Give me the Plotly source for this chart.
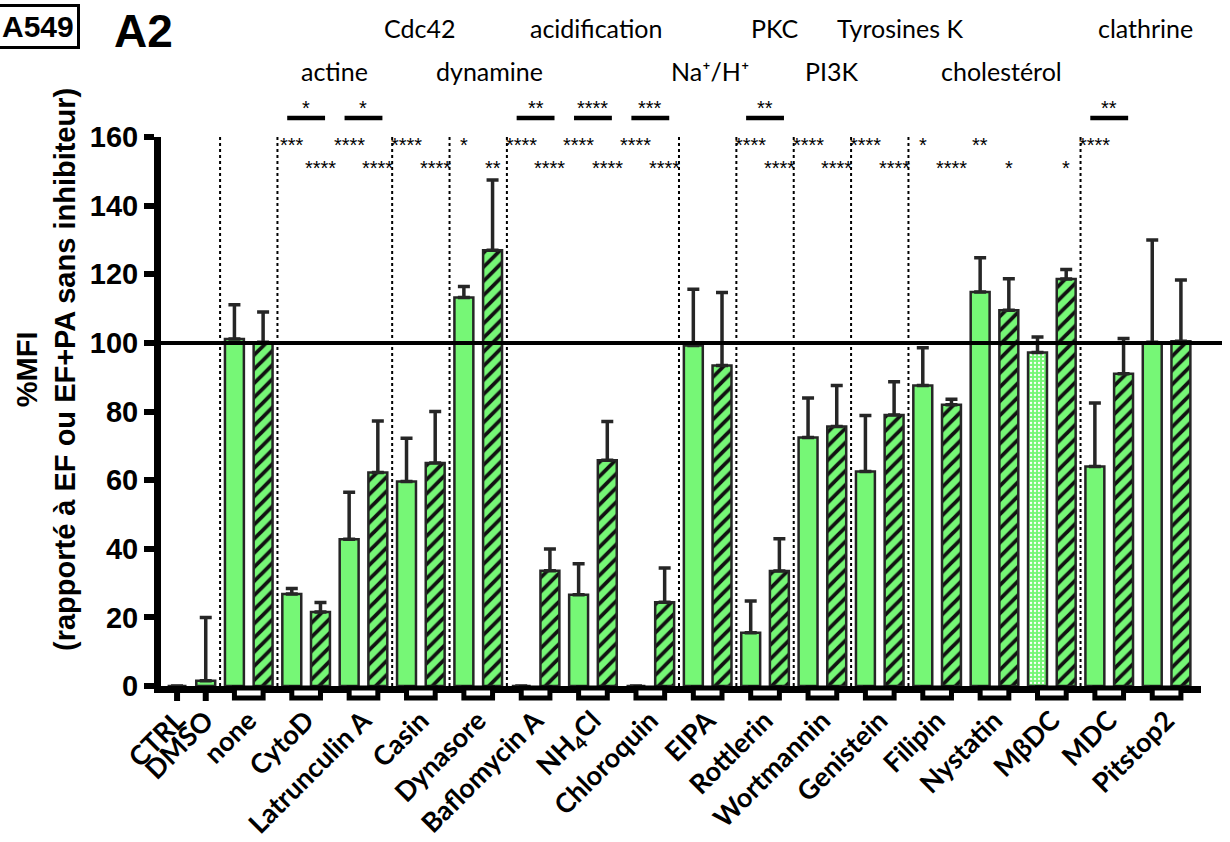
import plotly.graph_objects as go

# ---------------- data ----------------
groups = ["CTRL/DMSO", "none", "CytoD", "Latrunculin A", "Casin", "Dynasore",
          "Baflomycin A", "NH<sub>4</sub>Cl", "Chloroquin", "EIPA", "Rottlerin",
          "Wortmannin", "Genistein", "Filipin", "Nystatin", "MβDC", "MDC", "Pitstop2"]

# solid bars (EF); first slot is CTRL
solid_vals = [0, 101.1, 26.8, 42.8, 59.6, 113.2, 0, 26.6, 0, 99.2, 15.5, 72.4,
              62.5, 87.6, 114.8, 97.2, 64.0, 100.2]
solid_err = [0, 10.0, 1.6, 13.7, 12.6, 3.2, 0, 9.0, 0, 16.4, 9.3, 11.5,
             16.3, 11.0, 10.0, 4.5, 18.5, 29.8]

# hatched bars (EF+PA), from "none" onwards
hatch_vals = [100.2, 21.6, 62.2, 65.0, 127.0, 33.6, 65.8, 24.4, 93.4, 33.5,
              75.6, 79.0, 82.0, 109.5, 118.6, 91.0, 100.5]
hatch_err = [8.8, 2.7, 15.0, 15.0, 20.5, 6.3, 11.3, 10.0, 21.3, 9.4,
             12.0, 9.7, 1.6, 9.2, 2.8, 10.3, 17.8]

dmso_val = [1.5]
dmso_err = [18.5]

tick_labels = ["CTRL", "DMSO"] + groups[1:]

# significance vs control (row 1 = solid bars, row 2 = hatched bars)
stars_row1 = ["", "", "***", "****", "****", "*", "****", "****", "****", "",
              "****", "****", "****", "*", "**", "", "****", ""]
stars_row2 = ["", "", "****", "****", "****", "**", "****", "****", "****", "",
              "****", "****", "****", "****", "*", "*", "", ""]
# solid vs hatched comparisons
pair_stars = {2: "*", 3: "*", 6: "**", 7: "****", 8: "***", 10: "**", 16: "**"}

# target families
families_row1 = [("Cdc42", 3.97), ("acidification", 7.05), ("PKC", 10.17),
                 ("Tyrosines K", 12.35), ("clathrine", 16.64)]
families_row2 = [("actine", 2.5), ("dynamine", 5.2), ("Na⁺/H⁺", 9.04),
                 ("PI3K", 11.17), ("cholestérol", 14.12)]

separators = [0, 1, 3, 4, 5, 8, 9, 10, 11, 12, 15]

# ---------------- figure ----------------
GREEN = "#76F776"
EDGE = "#262626"
idx = list(range(len(groups)))
half = 0.25  # offset of each bar from its group centre

solid_shapes = ["." if g == "MβDC" else "" for g in groups]

fig = go.Figure()
fig.add_trace(go.Bar(
    x=idx, y=solid_vals, offsetgroup="a",
    marker=dict(color=GREEN, line=dict(color=EDGE, width=2.5),
                pattern=dict(shape=solid_shapes, fgcolor="white", bgcolor=GREEN,
                             fillmode="replace", size=4, solidity=0.25)),
    error_y=dict(type="data", array=solid_err, arrayminus=[0] * len(solid_err),
                 symmetric=False, color=EDGE, thickness=3.5, width=6),
    showlegend=False, hoverinfo="skip"))
fig.add_trace(go.Bar(
    x=idx[1:], y=hatch_vals, offsetgroup="b",
    marker=dict(color=GREEN, line=dict(color=EDGE, width=2.5),
                pattern=dict(shape="/", fgcolor="#111111", bgcolor=GREEN,
                             fillmode="replace", size=10, solidity=0.38)),
    error_y=dict(type="data", array=hatch_err, arrayminus=[0] * len(hatch_err),
                 symmetric=False, color=EDGE, thickness=3.5, width=6),
    showlegend=False, hoverinfo="skip"))
fig.add_trace(go.Bar(
    x=[0], y=dmso_val, offsetgroup="b",
    marker=dict(color=GREEN, line=dict(color=EDGE, width=2.5)),
    error_y=dict(type="data", array=dmso_err, arrayminus=[0], symmetric=False,
                 color=EDGE, thickness=3.5, width=6),
    showlegend=False, hoverinfo="skip"))

tickvals = [-half, half] + idx[1:]

PLOT_L, PLOT_R, PLOT_T, PLOT_B = 161, 1201, 137, 686
PH = PLOT_B - PLOT_T
PW = PLOT_R - PLOT_L


def py(px):
    return (PLOT_B - px) / PH


def pxx(px):
    return (px - PLOT_L) / PW


fig.update_layout(
    template="none",
    width=1230, height=842,
    margin=dict(l=PLOT_L, r=1230 - PLOT_R, t=PLOT_T, b=842 - PLOT_B, pad=0),
    paper_bgcolor="white", plot_bgcolor="white",
    barmode="group", bargap=0.0, bargroupgap=0.34,
    xaxis=dict(range=[-0.53, 17.6], tickvals=tickvals, ticktext=tick_labels,
               tickangle=-45, ticks="outside", ticklen=1, tickwidth=1,
               tickcolor="rgba(0,0,0,0)", automargin=False,
               tickfont=dict(family="Lato", size=27, color="black", weight="bold"),
               showline=True, linewidth=7, linecolor="black",
               showgrid=False, zeroline=False),
    yaxis=dict(range=[0, 160], tickvals=[0, 20, 40, 60, 80, 100, 120, 140, 160],
               ticks="outside", ticklen=10, tickwidth=6, tickcolor="black",
               automargin=False,
               tickfont=dict(family="Liberation Sans", size=29, color="black",
                             weight="bold"),
               showline=True, linewidth=7, linecolor="black",
               showgrid=False, zeroline=False),
)

shapes = []
# reference line at 100 %
shapes.append(dict(type="line", xref="paper", yref="y", x0=0, x1=pxx(1222),
                   y0=100, y1=100, line=dict(color="black", width=4)))
# dotted separators
for s in separators:
    shapes.append(dict(type="line", xref="x", yref="paper", x0=s + 0.5, x1=s + 0.5,
                       y0=0, y1=py(134), line=dict(color="black", width=2, dash="dot")))
# comparison lines
for g in pair_stars:
    shapes.append(dict(type="line", xref="x", yref="paper", x0=g - 0.33, x1=g + 0.33,
                       y0=py(118), y1=py(118), line=dict(color="black", width=4.5)))
# bracket boxes under pairs
for g in idx[1:]:
    shapes.append(dict(type="rect", xref="x", yref="paper", x0=g - 0.25, x1=g + 0.25,
                       y0=py(688), y1=py(698), fillcolor="white",
                       line=dict(color="black", width=5)))
# single ticks for CTRL and DMSO
for t in [-half, half]:
    shapes.append(dict(type="line", xref="x", yref="paper", x0=t, x1=t,
                       y0=py(688), y1=py(701), line=dict(color="black", width=6)))
fig.update_layout(shapes=shapes)

ann = []


def add(text, x, y, xref="paper", yref="paper", **kw):
    d = dict(text=text, x=x, y=y, xref=xref, yref=yref, showarrow=False,
             xanchor="center", yanchor="middle")
    d.update(kw)
    ann.append(d)


# y title
add("%MFI<br>(rapporté à EF ou EF+PA sans inhibiteur)", pxx(46), py(370),
    textangle=-90,
    font=dict(family="Liberation Sans", size=29, color="black", weight="bold"))
# panel labels
add("A549", pxx(38), py(26), bordercolor="black", borderwidth=3, borderpad=3,
    font=dict(family="Liberation Sans", size=30, color="black", weight="bold"))
add("A2", pxx(143), py(31),
    font=dict(family="Liberation Sans", size=46, color="black", weight="bold"))
for name, xpos in families_row1:
    add(name, xpos, py(28), xref="x",
        font=dict(family="Lato", size=25, color="black"))
for name, xpos in families_row2:
    add(name, xpos, py(71), xref="x",
        font=dict(family="Lato", size=25, color="black"))
STAR_FONT = dict(family="Liberation Sans", size=20, color="black")
for g, s in pair_stars.items():
    add(s, g, py(108), xref="x", font=STAR_FONT)
for g in idx:
    if stars_row1[g]:
        add(stars_row1[g], g - half, py(145), xref="x", font=STAR_FONT)
    if stars_row2[g]:
        add(stars_row2[g], g + half, py(168), xref="x", font=STAR_FONT)
fig.update_layout(annotations=ann)

fig.write_html("out.html", config={"displayModeBar": False},
               post_script="document.body.style.margin='0';")
